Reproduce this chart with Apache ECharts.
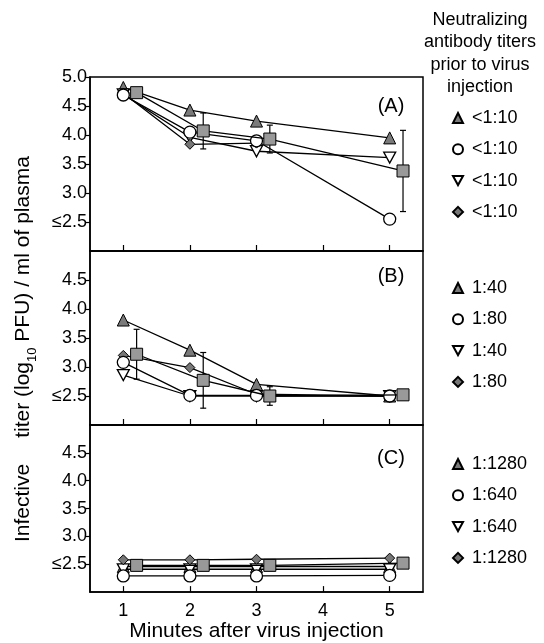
<!DOCTYPE html>
<html>
<head>
<meta charset="utf-8">
<script src="https://cdn.jsdelivr.net/npm/echarts@6/dist/echarts.min.js"></script>
<style>html,body{margin:0;padding:0;background:#fff}#c{width:544px;height:643px}</style>
</head>
<body>
<div id="c"></div>
<script>
// ---- data ----
const minutes = [1, 2, 3, 5];
const meanMinutes = [1.2, 2.2, 3.2, 5.2];
const xTicks = [1, 2, 3, 4, 5];
const yTicksA = [2.5, 3.0, 3.5, 4.0, 4.5, 5.0];
const yTicksBC = [2.5, 3.0, 3.5, 4.0, 4.5];

// Panel A
const triA  = [4.82, 4.43, 4.24, 3.95];
const circA = [4.69, 4.05, 3.90, 2.55];
const dtriA = [4.70, 3.96, 3.72, 3.61];
const diamA = [4.72, 3.84, 3.86, null];
const meanA = [4.73, 4.07, 3.93, 3.38];
const sdA   = [0.06, 0.31, 0.24, 0.70];
// Panel B
const triB  = [3.81, 3.29, 2.70, 2.50];
const circB = [3.08, 2.51, 2.51, 2.50];
const dtriB = [2.86, 2.50, 2.50, 2.50];
const diamB = [3.20, 2.99, 2.53, 2.50];
const meanB = [3.22, 2.77, 2.50, 2.52];
const sdB   = [0.43, 0.48, 0.16, 0.00];
// Panel C
const triC  = [2.46, 2.46, 2.46, 2.46];
const circC = [2.29, 2.29, 2.29, 2.30];
const dtriC = [2.41, 2.41, 2.41, 2.41];
const diamC = [2.58, 2.58, 2.59, 2.61];
const meanC = [2.48, 2.48, 2.48, 2.52];
const sdC   = [0.00, 0.00, 0.00, 0.00];

const legendA = ['<1:10', '<1:10', '<1:10', '<1:10'];
const legendB = ['1:40', '1:80', '1:40', '1:80'];
const legendC = ['1:1280', '1:640', '1:640', '1:1280'];
const panelLabels = ['(A)', '(B)', '(C)'];

// ---- chart ----
const FONT = 'Liberation Sans, Arial, Helvetica, sans-serif';
const chart = echarts.init(document.getElementById('c'));

const panels = [
  {tri: triA, circ: circA, dtri: dtriA, diam: diamA, mean: meanA, sd: sdA, leg: legendA, ticks: yTicksA},
  {tri: triB, circ: circB, dtri: dtriB, diam: diamB, mean: meanB, sd: sdB, leg: legendB, ticks: yTicksBC},
  {tri: triC, circ: circC, dtri: dtriC, diam: diamC, mean: meanC, sd: sdC, leg: legendC, ticks: yTicksBC}
];
const gridTops = [77, 251, 425];
const legendTops = [109, 279, 455];
const labelY = [106, 276, 458];
const DOWN_TRI = 'path://M0,0 L10,0 L5,9 Z';

const pairs = (xs, ys) => xs.map((x, i) => ys[i] == null ? null : [x, ys[i]]).filter(d => d);

const grids = [], xAxes = [], yAxes = [], series = [], legends = [];
panels.forEach((p, k) => {
  grids.push({left: 90, top: gridTops[k], width: 333, height: 174, show: true,
    borderColor: '#000', borderWidth: 1.5, backgroundColor: 'transparent'});
  const last = k === 2;
  xAxes.push({type: 'value', gridIndex: k, min: 0.5, max: 5.5,
    axisLine: {show: true, lineStyle: {color: '#000', width: 1.5}},
    axisTick: {show: true, inside: true, length: 6, customValues: xTicks, lineStyle: {color: '#000', width: 1.2}},
    axisLabel: {show: last, customValues: xTicks, color: '#000', fontSize: 18, fontFamily: FONT, margin: 10},
    splitLine: {show: false},
    name: last ? 'Minutes after virus injection' : '',
    nameLocation: 'middle', nameGap: 27,
    nameTextStyle: {color: '#000', fontSize: 21, fontFamily: FONT}
  });
  yAxes.push({type: 'value', gridIndex: k, min: 2, max: 5,
    axisLine: {show: true, lineStyle: {color: '#000', width: 1.5}},
    axisTick: {show: true, inside: false, length: 4, customValues: p.ticks, lineStyle: {color: '#000', width: 1.2}},
    axisLabel: {customValues: p.ticks, color: '#000', fontSize: 18, fontFamily: FONT, margin: 3,
      formatter: v => v === 2.5 ? '≤2.5' : v.toFixed(1)},
    splitLine: {show: false}
  });
  const base = {type: 'line', xAxisIndex: k, yAxisIndex: k, lineStyle: {color: '#000', width: 1.3},
    showSymbol: true, animation: false, emphasis: {disabled: true}};
  const names = ['P' + k + 't', 'P' + k + 'c', 'P' + k + 'd', 'P' + k + 'm'];
  const icons = ['triangle', 'circle', DOWN_TRI, 'diamond'];
  series.push(Object.assign({}, base, {name: names[0], data: pairs(minutes, p.tri), symbol: 'triangle', symbolSize: 12, z: 2,
    itemStyle: {color: '#7a7a7a', borderColor: '#000', borderWidth: 1}}));
  series.push(Object.assign({}, base, {name: names[2], data: pairs(minutes, p.dtri), symbol: DOWN_TRI, symbolSize: [12, 11], z: 3,
    itemStyle: {color: '#fff', borderColor: '#000', borderWidth: 1.3}}));
  series.push(Object.assign({}, base, {name: names[3], data: pairs(minutes, p.diam), symbol: 'diamond', symbolSize: 10, z: 4,
    itemStyle: {color: '#777', borderColor: '#000', borderWidth: 1}}));
  series.push(Object.assign({}, base, {name: names[1], data: pairs(minutes, p.circ), symbol: 'circle', symbolSize: 12, z: 5,
    itemStyle: {color: '#fff', borderColor: '#000', borderWidth: 1.3}}));
  series.push({type: 'custom', xAxisIndex: k, yAxisIndex: k, z: 6, animation: false, silent: true,
    data: meanMinutes.map((x, i) => [x, p.mean[i] - p.sd[i], p.mean[i] + p.sd[i]]).filter(d => d[2] - d[1] > 0.001),
    renderItem: (params, api) => {
      const lo = api.coord([api.value(0), api.value(1)]);
      const hi = api.coord([api.value(0), api.value(2)]);
      const st = {stroke: '#000', lineWidth: 1.2};
      return {type: 'group', children: [
        {type: 'line', shape: {x1: lo[0], y1: lo[1], x2: hi[0], y2: hi[1]}, style: st},
        {type: 'line', shape: {x1: lo[0] - 3, y1: lo[1], x2: lo[0] + 3, y2: lo[1]}, style: st},
        {type: 'line', shape: {x1: hi[0] - 3, y1: hi[1], x2: hi[0] + 3, y2: hi[1]}, style: st}
      ]};
    }
  });
  series.push(Object.assign({}, base, {name: 'P' + k + 'mean', data: pairs(meanMinutes, p.mean), symbol: 'rect', symbolSize: 12, z: 7,
    itemStyle: {color: '#999', borderColor: '#000', borderWidth: 1}}));
  const labelMap = {};
  names.forEach((n, i) => labelMap[n] = p.leg[i]);
  legends.push({orient: 'vertical', left: 452, top: legendTops[k], padding: 0, itemWidth: 10, itemHeight: 10, itemGap: 13.3,
    selectedMode: false, data: names.map((n, i) => ({name: n, icon: icons[i]})),
    formatter: n => labelMap[n],
    textStyle: {color: '#000', fontSize: 18, fontFamily: FONT, lineHeight: 18, padding: [0, 0, 0, 4]}
  });
});

const graphics = [
  {type: 'text', x: 480, y: 9, style: {text: 'Neutralizing\nantibody titers\nprior to virus\ninjection',
    align: 'center', verticalAlign: 'top', fontSize: 18, lineHeight: 22.3, fontFamily: FONT, fill: '#000'}},
  {type: 'text', x: 23, y: 297, rotation: Math.PI / 2,
    style: {text: 'titer (log{sub|10} PFU) / ml of plasma', align: 'center', verticalAlign: 'middle',
      fontSize: 21, lineHeight: 24, fontFamily: FONT, fill: '#000',
      rich: {sub: {fontSize: 13, fontFamily: FONT, fill: '#000', verticalAlign: 'bottom', lineHeight: 14, padding: [0, 0, -4, 0]}}}},
  {type: 'text', x: 23, y: 503, rotation: Math.PI / 2,
    style: {text: 'Infective', align: 'center', verticalAlign: 'middle', fontSize: 21, fontFamily: FONT, fill: '#000'}}
];
panelLabels.forEach((t, k) => graphics.push({type: 'text', x: 391, y: labelY[k],
  style: {text: t, align: 'center', verticalAlign: 'middle', fontSize: 20, fontFamily: FONT, fill: '#000'}}));

chart.setOption({
  animation: false,
  backgroundColor: '#fff',
  grid: grids, xAxis: xAxes, yAxis: yAxes, series: series, legend: legends,
  graphic: graphics
});
</script>
</body>
</html>
